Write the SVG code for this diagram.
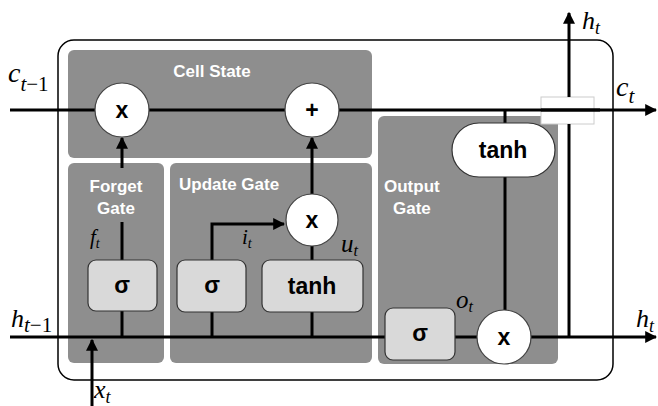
<svg xmlns="http://www.w3.org/2000/svg" width="658" height="406" viewBox="0 0 658 406">
<style>
.panel{fill:#8e8e8e}
.ptxt{fill:#fff;font-family:"Liberation Sans",Arial,sans-serif;font-weight:bold;font-size:17px}
.box{fill:#d9d9d9;stroke:#333;stroke-width:1.2}
.circ{fill:#fff;stroke:#444;stroke-width:1.2}
.op{font-family:"Liberation Sans",Arial,sans-serif;font-weight:bold;font-size:23px;fill:#000;text-anchor:middle}
.ln{stroke:#000;stroke-width:3;fill:none}
.var{font-family:"Liberation Serif","Times New Roman",serif;font-style:italic;fill:#000}
.sub{font-size:21px}
</style>
<defs>
<marker id="ah" viewBox="0 0 10 10" refX="9" refY="5" markerWidth="4" markerHeight="4" orient="auto" markerUnits="strokeWidth">
<path d="M0,0 L10,5 L0,10 z" fill="#000"/>
</marker>
</defs>
<rect id="cell" x="58" y="40" width="555" height="340" rx="16" fill="#fff" stroke="#000" stroke-width="1.5"/>
<g id="cell-state-panel"><rect class="panel" x="68" y="50" width="304" height="108" rx="6"/><text class="ptxt" x="212" y="77" text-anchor="middle">Cell State</text></g>
<g id="forget-panel"><rect class="panel" x="68" y="163" width="96" height="200" rx="6"/><text class="ptxt" x="116" y="192" text-anchor="middle">Forget</text><text class="ptxt" x="116" y="214" text-anchor="middle">Gate</text></g>
<g id="update-panel"><rect class="panel" x="170" y="163" width="202" height="200" rx="6"/><text class="ptxt" x="179" y="190">Update Gate</text></g>
<g id="output-panel"><rect class="panel" x="378" y="116" width="180" height="248" rx="6"/><text class="ptxt" x="384" y="192">Output</text><text class="ptxt" x="393" y="214">Gate</text></g>
<g id="connectors">
<rect x="541" y="97" width="53" height="27" fill="#fff" stroke="#ccc" stroke-width="1"/>
<line class="ln" x1="10" y1="110" x2="656" y2="110" marker-end="url(#ah)"/>
<line class="ln" x1="10" y1="337" x2="656" y2="337" marker-end="url(#ah)"/>
<line class="ln" x1="92" y1="406" x2="92" y2="340" marker-end="url(#ah)"/>
<line class="ln" x1="122" y1="168" x2="122" y2="138" marker-end="url(#ah)"/>
<line class="ln" x1="122" y1="222" x2="122" y2="260"/>
<line class="ln" x1="122" y1="311" x2="122" y2="337"/>
<line class="ln" x1="212" y1="337" x2="212" y2="312"/>
<polyline class="ln" points="212,260 212,224 284,224" marker-end="url(#ah)"/>
<line class="ln" x1="312" y1="337" x2="312" y2="312"/>
<line class="ln" x1="312" y1="260" x2="312" y2="246"/>
<line class="ln" x1="312" y1="194" x2="312" y2="138" marker-end="url(#ah)"/>
<line class="ln" x1="505" y1="110" x2="505" y2="123"/>
<line class="ln" x1="505" y1="177" x2="505" y2="310"/>
<line class="ln" x1="569" y1="337" x2="569" y2="124"/>
<line class="ln" x1="569" y1="97" x2="569" y2="13" marker-end="url(#ah)"/>
<line class="ln" x1="541" y1="110" x2="600" y2="110"/>
</g>
<g id="mult-forget"><circle class="circ" cx="122" cy="110" r="27"/><text class="op" x="122" y="118">x</text></g>
<g id="add-cell"><circle class="circ" cx="312" cy="110" r="27"/><text class="op" x="312" y="118">+</text></g>
<g id="sigma-forget"><rect class="box" x="88" y="260" width="69" height="51" rx="8"/><text class="op" x="122" y="293">σ</text></g>
<g id="sigma-update"><rect class="box" x="177" y="260" width="69" height="52" rx="8"/><text class="op" x="212" y="293">σ</text></g>
<g id="tanh-update"><rect class="box" x="262" y="260" width="101" height="52" rx="8"/><text class="op" x="312" y="294">tanh</text></g>
<g id="mult-update"><circle class="circ" cx="312" cy="220" r="26"/><text class="op" x="312" y="228">x</text></g>
<g id="tanh-output"><rect x="452" y="123" width="103" height="54" rx="27" fill="#fff" stroke="#333" stroke-width="1.2"/><text class="op" x="503" y="158">tanh</text></g>
<g id="sigma-output"><rect class="box" x="385" y="308" width="70" height="52" rx="8"/><text class="op" x="420" y="341">σ</text></g>
<g id="mult-output"><circle class="circ" cx="504" cy="337" r="27"/><text class="op" x="504" y="345">x</text></g>
<g id="labels">
<text class="var" x="8" y="82" font-size="28">c<tspan class="sub" dy="9">t</tspan><tspan font-style="normal" class="sub">−1</tspan></text>
<text class="var" x="616" y="96" font-size="28">c<tspan class="sub" dy="7">t</tspan></text>
<text class="var" x="11" y="327" font-size="26">h<tspan class="sub" dy="5">t</tspan><tspan font-style="normal" class="sub">−1</tspan></text>
<text class="var" x="636" y="327" font-size="26">h<tspan font-size="18" dy="5">t</tspan></text>
<text class="var" x="582" y="29" font-size="26">h<tspan font-size="18" dy="5">t</tspan></text>
<text class="var" x="94" y="398" font-size="26">x<tspan font-size="18" dy="5">t</tspan></text>
<text class="var" x="90" y="244" font-size="21">f<tspan font-size="14" dy="4">t</tspan></text>
<text class="var" x="242" y="244" font-size="21">i<tspan font-size="14" dy="4">t</tspan></text>
<text class="var" x="341" y="252" font-size="25">u<tspan font-size="16" dy="4">t</tspan></text>
<text class="var" x="456" y="308" font-size="25">o<tspan font-size="16" dy="4">t</tspan></text>
</g>
</svg>
